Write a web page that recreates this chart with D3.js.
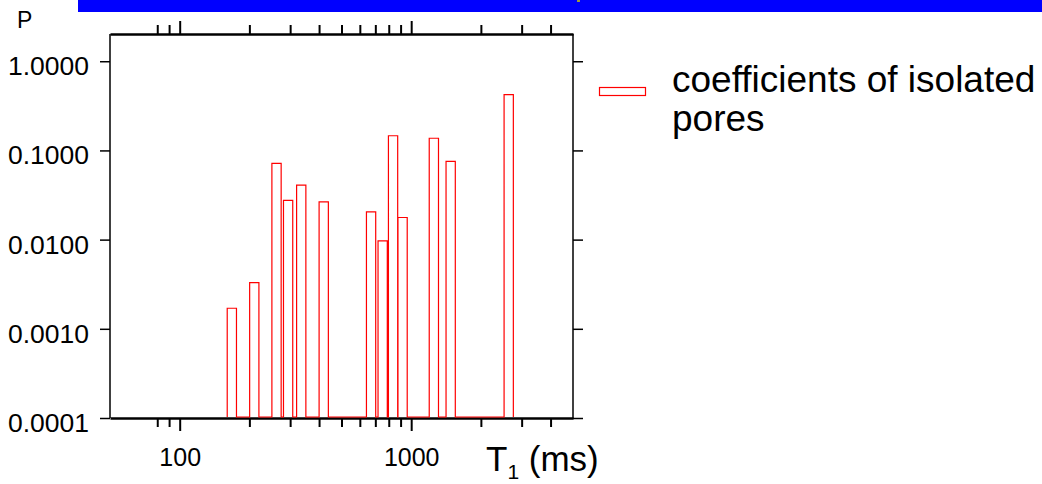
<!DOCTYPE html>
<html>
<head>
<meta charset="utf-8">
<script src="https://cdn.jsdelivr.net/npm/d3@7"></script>
<style>
  body { margin: 0; background: #fff; }
  svg { display: block; font-family: "Liberation Sans", Arial, sans-serif; }
</style>
</head>
<body>
<svg id="chart" width="1042" height="484"></svg>
<script>
// T1 bin centres (ms) and P coefficients
var t1Values = [168, 210, 262, 294, 335, 419, 671, 753, 835, 918, 1253, 1481, 2638];
var pValues = [0.0017, 0.0033, 0.0717, 0.0275, 0.0409, 0.0265, 0.0205, 0.0097, 0.146, 0.0177, 0.137, 0.0755, 0.422];
var xTicks = [80, 90, 100, 200, 300, 400, 500, 600, 700, 800, 900, 1000, 2000, 3000, 4000];
var xMajor = [100, 1000];
var yTicks = [1, 0.1, 0.01, 0.001, 0.0001];
var legendLines = ["coefficients of isolated", "pores"];

var binHalf = 0.02; // half width of a bin, in decades

var svg = d3.select('#chart');
var plotL = 110, plotR = 573, plotT = 34, plotB = 418;

var x = d3.scaleLog().domain([50, 5000]).range([plotL, plotR]);
var y = d3.scaleLog().domain([0.0001, 2.02]).range([plotB, plotT]);

// banner strip at the top
svg.append('rect').attr('x', 78).attr('y', 0).attr('width', 964).attr('height', 12).attr('fill', '#0000ff');
svg.append('rect').attr('x', 577).attr('y', 0).attr('width', 3).attr('height', 2).attr('fill', '#9c9a3c');

// frame
svg.append('line').attr('x1', plotL).attr('x2', plotL).attr('y1', plotT).attr('y2', plotB)
  .attr('stroke', '#000').attr('stroke-width', 1.5);
svg.append('line').attr('x1', plotR).attr('x2', plotR).attr('y1', plotT).attr('y2', plotB)
  .attr('stroke', '#000').attr('stroke-width', 1.5);

function styleAxis(g, major, sign) {
  g.select('.domain').attr('stroke-width', 2.6);
  g.selectAll('.tick line').attr('stroke-width', 2)
    .attr('y2', function (d) { return sign * (major.indexOf(d) >= 0 ? 13 : 9); });
  g.selectAll('text').attr('font-size', 25).attr('fill', '#000');
}

var xAxis = svg.append('g').attr('transform', 'translate(0,' + plotB + ')')
  .call(d3.axisBottom(x).tickValues(xTicks).tickSizeOuter(0)
    .tickFormat(function (d) { return xMajor.indexOf(d) >= 0 ? d : ''; }));
styleAxis(xAxis, xMajor, 1);
xAxis.selectAll('text').attr('y', 48).attr('dy', 0);

var xTop = svg.append('g').attr('transform', 'translate(0,' + plotT + ')')
  .call(d3.axisTop(x).tickValues(xTicks).tickSizeOuter(0).tickFormat(''));
styleAxis(xTop, xMajor, -1);

var yAxis = svg.append('g').attr('transform', 'translate(' + plotL + ',0)')
  .call(d3.axisLeft(y).tickValues(yTicks).tickSize(10).tickSizeOuter(0)
    .tickFormat(d3.format('.4f')));
yAxis.select('.domain').remove();
yAxis.selectAll('.tick line').attr('stroke-width', 1.5);
yAxis.selectAll('text').attr('font-size', 26.5).attr('fill', '#000')
  .attr('x', -21).attr('dy', 0).attr('y', 13.5);

var yRight = svg.append('g').attr('transform', 'translate(' + plotR + ',0)')
  .call(d3.axisRight(y).tickValues(yTicks).tickSize(10).tickSizeOuter(0).tickFormat(''));
yRight.select('.domain').remove();
yRight.selectAll('.tick line').attr('stroke-width', 1.5);

// histogram as one step outline, drawn over the bottom axis line
var pts = [];
t1Values.forEach(function (t, i) {
  var x0 = t * Math.pow(10, -binHalf), x1 = t * Math.pow(10, binHalf);
  pts.push([x0, 0.0001], [x0, pValues[i]], [x1, pValues[i]], [x1, 0.0001]);
});
var line = d3.line()
  .x(function (d) { return x(d[0]); })
  .y(function (d) { return y(d[1]) - (d[1] <= 0.0001 ? 1 : 0); });
svg.append('path')
  .attr('d', line(pts))
  .attr('fill', 'none')
  .attr('stroke', '#ff0000')
  .attr('stroke-width', 1.2);

// axis titles
svg.append('text').attr('x', 17).attr('y', 28).attr('font-size', 23).text('P');
var tl = svg.append('text').attr('x', 486).attr('y', 471).attr('font-size', 35);
tl.append('tspan').text('T');
tl.append('tspan').attr('font-size', 21).attr('dy', 7.5).text('1');
tl.append('tspan').attr('dy', -7.5).text(' (ms)');

// legend
svg.append('rect').attr('x', 599.5).attr('y', 87.5).attr('width', 46).attr('height', 8)
  .attr('fill', '#fff').attr('stroke', '#ff0000').attr('stroke-width', 1.2);
svg.selectAll('.legend-text').data(legendLines).enter().append('text')
  .attr('class', 'legend-text')
  .attr('x', 672).attr('y', function (d, i) { return 92 + i * 39; })
  .attr('font-size', 37).text(function (d) { return d; });
</script>
</body>
</html>
